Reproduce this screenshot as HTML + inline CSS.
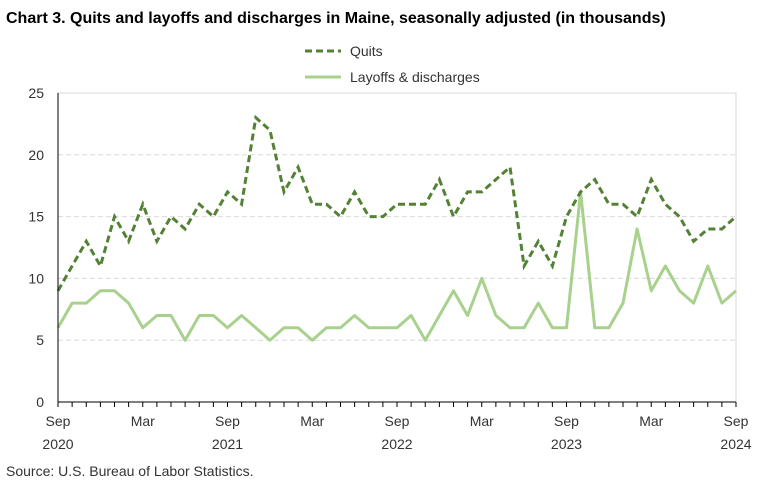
<!DOCTYPE html>
<html><head><meta charset="utf-8"><style>
body{margin:0;background:#fff;font-family:"Liberation Sans",sans-serif;}
svg text{font-family:"Liberation Sans",sans-serif;}
</style></head><body>
<svg width="780" height="488" xmlns="http://www.w3.org/2000/svg">
<rect width="780" height="488" fill="#fff"/>
<text x="6" y="23" font-size="16" font-weight="bold" fill="#000">Chart 3. Quits and layoffs and discharges in Maine, seasonally adjusted (in thousands)</text>
<g>
<g><line x1="305" y1="51" x2="341" y2="51" stroke="#548235" stroke-width="3" stroke-dasharray="7,4"/><text x="350" y="56" font-size="14" fill="#333">Quits</text></g>
<g><line x1="305" y1="77" x2="341" y2="77" stroke="#a9d18e" stroke-width="3"/><text x="350" y="82" font-size="14" fill="#333">Layoffs &amp; discharges</text></g>
</g>
<rect x="58" y="93" width="678" height="309" fill="none" stroke="#d9d9d9"/>
<g id="grid"></g><g id="yticks"></g><g id="xticks"></g><g id="series"></g>
<line x1="58" y1="93" x2="58" y2="402" stroke="#000"/>
<line x1="58" y1="402" x2="736" y2="402" stroke="#000"/>
<text x="6" y="476" font-size="14" fill="#333">Source: U.S. Bureau of Labor Statistics.</text>
</svg>
<script>
const quits=[9,11,13,11,15,13,16,13,15,14,16,15,17,16,23,22,17,19,16,16,15,17,15,15,16,16,16,18,15,17,17,18,19,11,13,11,15,17,18,16,16,15,18,16,15,13,14,14,15];
const layoffs=[6,8,8,9,9,8,6,7,7,5,7,7,6,7,6,5,6,6,5,6,6,7,6,6,6,7,5,7,9,7,10,7,6,6,8,6,6,17,6,6,8,14,9,11,9,8,11,8,9];
const yTicks=[0,5,10,15,20,25];
const xLabels=[[0,"Sep","2020"],[6,"Mar",""],[12,"Sep","2021"],[18,"Mar",""],[24,"Sep","2022"],[30,"Mar",""],[36,"Sep","2023"],[42,"Mar",""],[48,"Sep","2024"]];
const NS="http://www.w3.org/2000/svg";
const X0=58,X1=736,Y0=402,Y1=93,N=48,YMAX=25;
const xs=i=>X0+(X1-X0)*i/N;
const ys=v=>Y0-(Y0-Y1)*v/YMAX;
function mk(t,a,p){const e=document.createElementNS(NS,t);for(const k in a)e.setAttribute(k,a[k]);p.appendChild(e);return e;}
const grid=document.getElementById('grid'),yt=document.getElementById('yticks'),xt=document.getElementById('xticks'),ser=document.getElementById('series');
yTicks.forEach(v=>{
 if(v>0&&v<YMAX){const g=mk('line',{x1:X0,x2:X1,y1:ys(v),y2:ys(v),stroke:'#d9d9d9','stroke-dasharray':'5,3'},grid);
 
 }
 const t=mk('text',{x:X0-14,y:ys(v)+5,'font-size':14,'text-anchor':'end',fill:'#333'},yt);t.textContent=v;
 
 
});
for(let i=0;i<=N;i++){const l=mk('line',{x1:xs(i),x2:xs(i),y1:Y0,y2:Y0+5,stroke:'#000'},xt);
 
 }
xLabels.forEach(([i,m,y])=>{
 const t=mk('text',{x:xs(i),y:Y0+24,'font-size':14,'text-anchor':'middle',fill:'#333'},xt);t.textContent=m;
 
 
 if(y){const u=mk('text',{x:xs(i),y:Y0+47,'font-size':14,'text-anchor':'middle',fill:'#333'},xt);u.textContent=y;
 
 }
});
const pts=a=>a.map((v,i)=>xs(i).toFixed(1)+','+ys(v).toFixed(1)).join(' ');
const l1=mk('polyline',{points:pts(layoffs),fill:'none',stroke:'#a9d18e','stroke-width':3,'stroke-linejoin':'round'},ser);


const l2=mk('polyline',{points:pts(quits),fill:'none',stroke:'#548235','stroke-width':3,'stroke-dasharray':'7,4'},ser);


</script>
</body></html>
